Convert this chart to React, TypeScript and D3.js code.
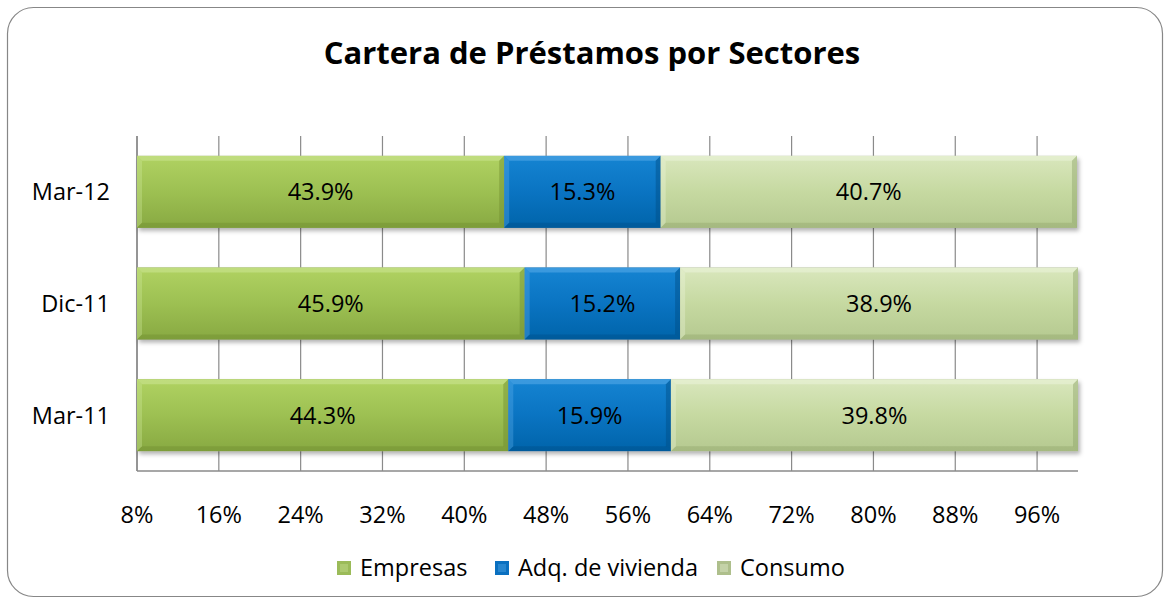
import React from "react";
import * as d3 from "d3";

const categories = ["Mar-12", "Dic-11", "Mar-11"];
const seriesNames = ["Empresas", "Adq. de vivienda", "Consumo"];
const empresas = [43.9, 45.9, 44.3];
const vivienda = [15.3, 15.2, 15.9];
const consumo = [40.7, 38.9, 39.8];
const tickValues = [8, 16, 24, 32, 40, 48, 56, 64, 72, 80, 88, 96];
const axisMin = 8;
const axisMax = 100;

const colors = [
  { top: "#b0d262", mid: "#9dc052", bot: "#88a942", light: "#cfe89a", dark: "#6e8c2f", legend: "#9bbb59" },
  { top: "#1584d2", mid: "#0a74c2", bot: "#0064aa", light: "#5fb0ec", dark: "#004d86", legend: "#0a70c0" },
  { top: "#d9e7bd", mid: "#c6d9a1", bot: "#b5c990", light: "#eef5de", dark: "#8fa36a", legend: "#aebf8c" },
];

const W = 1167;
const H = 601;
const FONT = "'Open Sans', 'Noto Sans', sans-serif";
const FS = 23.5;

export default function App() {
  const x = d3.scaleLinear().domain([axisMin, axisMax]).range([137, 1078]);
  const y = d3
    .scaleBand<string>()
    .domain(categories)
    .range([136, 471])
    .paddingInner(0.355)
    .paddingOuter(0.178);

  const series = [empresas, vivienda, consumo];
  const rows = categories.map((c, i) => {
    let acc = 0;
    return series.map((s, k) => {
      const start = acc;
      acc += s[i];
      return { cat: c, k, v: s[i], start, end: acc };
    });
  });

  const bw = y.bandwidth();
  const bev = 5;

  const legendItems = [
    { name: seriesNames[0], x: 337 },
    { name: seriesNames[1], x: 495 },
    { name: seriesNames[2], x: 717 },
  ];

  return (
    <svg width={W} height={H} style={{ position: "absolute", left: 0, top: 0 }}>
      <defs>
        {colors.map((c, k) => (
          <linearGradient key={k} id={`g${k}`} x1="0" y1="0" x2="0" y2="1">
            <stop offset="0" stopColor={c.top} />
            <stop offset="0.5" stopColor={c.mid} />
            <stop offset="1" stopColor={c.bot} />
          </linearGradient>
        ))}
        <filter id="shadow" x="-5%" y="-20%" width="110%" height="150%">
          <feDropShadow dx="2" dy="3" stdDeviation="2" floodColor="#000" floodOpacity="0.3" />
        </filter>
      </defs>
      <rect x={0} y={0} width={W} height={H} fill="#fff" />
      <rect x={7.5} y={7.5} width={1155} height={589} rx={26} ry={26} fill="#fff" stroke="#878787" strokeWidth={1.2} />

      <text x={592} y={64} textAnchor="middle" fontFamily={FONT} fontWeight="bold" fontSize={31} fill="#000">
        Cartera de Préstamos por Sectores
      </text>

      {tickValues.map((t) => (
        <line key={t} x1={x(t)} x2={x(t)} y1={136} y2={471} stroke="#8a8a8a" strokeWidth={1.2} />
      ))}
      <line x1={137} x2={1078} y1={471} y2={471} stroke="#8a8a8a" strokeWidth={1.5} />
      <line x1={137} x2={137} y1={136} y2={471} stroke="#8a8a8a" strokeWidth={1.5} />

      {rows.map((segs, i) => {
        const y0 = y(segs[0].cat)!;
        return (
          <g key={i}>
            <g filter="url(#shadow)">
              <rect x={x(axisMin)} y={y0} width={x(Math.min(axisMax, segs[2].end)) - x(axisMin)} height={bw} fill="#999" />
            </g>
            {segs.map((s) => {
              const x0 = x(Math.max(axisMin, s.start));
              const x1 = x(Math.min(axisMax, s.end));
              const c = colors[s.k];
              const w = x1 - x0;
              return (
                <g key={s.k}>
                  <rect x={x0} y={y0} width={w} height={bw} fill={`url(#g${s.k})`} />
                  <polygon
                    points={`${x0},${y0} ${x1},${y0} ${x1 - bev},${y0 + bev} ${x0 + bev},${y0 + bev}`}
                    fill={c.light}
                    opacity={0.5}
                  />
                  <polygon
                    points={`${x0},${y0} ${x0 + bev},${y0 + bev} ${x0 + bev},${y0 + bw - bev} ${x0},${y0 + bw}`}
                    fill={c.light}
                    opacity={0.35}
                  />
                  <polygon
                    points={`${x0},${y0 + bw} ${x0 + bev},${y0 + bw - bev} ${x1 - bev},${y0 + bw - bev} ${x1},${y0 + bw}`}
                    fill={c.dark}
                    opacity={0.4}
                  />
                  <polygon
                    points={`${x1},${y0} ${x1 - bev},${y0 + bev} ${x1 - bev},${y0 + bw - bev} ${x1},${y0 + bw}`}
                    fill={c.dark}
                    opacity={0.45}
                  />
                  <text
                    x={(x0 + x1) / 2}
                    y={y0 + bw / 2}
                    dy="0.36em"
                    textAnchor="middle"
                    fontFamily={FONT}
                    fontSize={FS}
                    fill="#000"
                  >
                    {s.v.toFixed(1)}%
                  </text>
                </g>
              );
            })}
          </g>
        );
      })}

      {categories.map((c) => (
        <text
          key={c}
          x={110}
          y={y(c)! + bw / 2}
          dy="0.36em"
          textAnchor="end"
          fontFamily={FONT}
          fontSize={FS}
          fill="#000"
        >
          {c}
        </text>
      ))}

      {tickValues.map((t) => (
        <text key={t} x={x(t)} y={515} dy="0.36em" textAnchor="middle" fontFamily={FONT} fontSize={FS} fill="#000">
          {t}%
        </text>
      ))}

      {legendItems.map((l, k) => (
        <g key={k}>
          <rect x={l.x} y={561} width={14} height={14} fill={colors[k].legend} />
          <rect x={l.x + 3} y={564} width={8} height={8} fill={colors[k].light} opacity={0.35} />
          <text x={l.x + 23} y={568} dy="0.36em" fontFamily={FONT} fontSize={FS} fill="#000">
            {l.name}
          </text>
        </g>
      ))}
    </svg>
  );
}
